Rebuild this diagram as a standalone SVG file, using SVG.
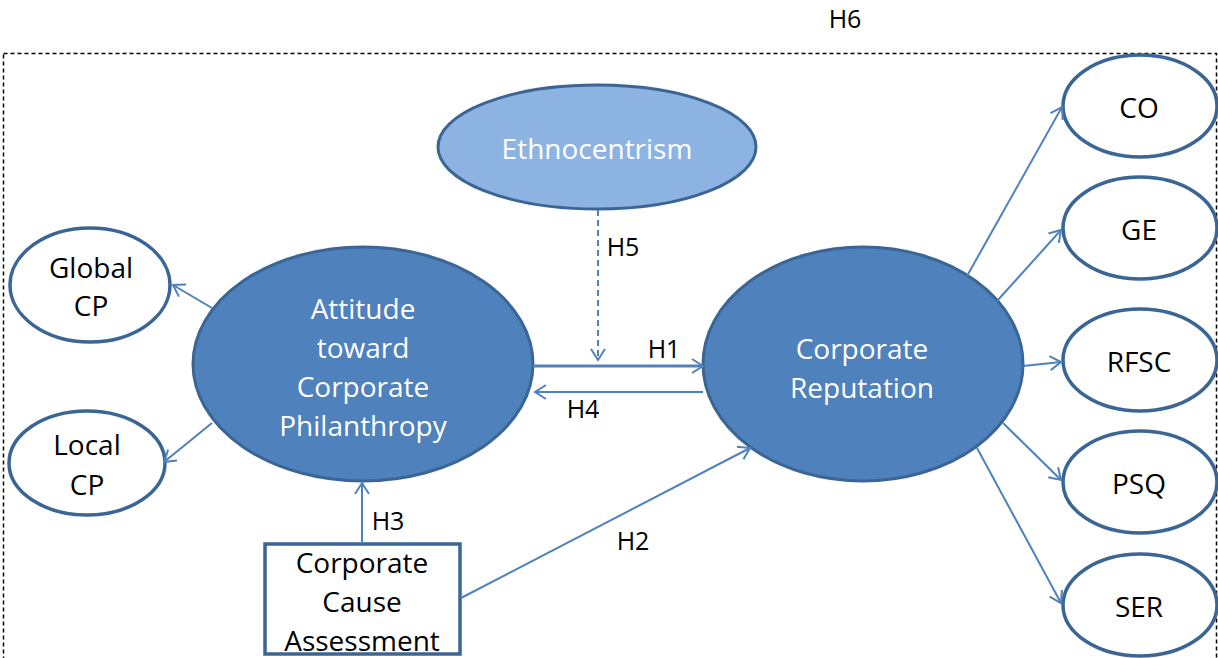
<svg xmlns="http://www.w3.org/2000/svg" width="1218" height="658" viewBox="0 0 1218 658">
<style>
text{font-family:"Open Sans","Liberation Sans",sans-serif;font-size:28px;text-anchor:middle;dominant-baseline:central}
.w{fill:#ffffff}
.k{fill:#000000}
.lbl{font-size:25px}
.dark{fill:#4f81bd;stroke:#3a6595;stroke-width:3}
.light{fill:#8db3e2;stroke:#3a6595;stroke-width:3}
.white{fill:#ffffff;stroke:#3a6595;stroke-width:3.5}
.c{stroke:#4f81bd;stroke-width:2;fill:none;marker-end:url(#ah)}
</style>
<defs>
<marker id="ah" markerUnits="userSpaceOnUse" markerWidth="20" markerHeight="20" refX="13" refY="8" orient="auto">
<path d="M2,1 L13,8 L2,15" fill="none" stroke="#4f81bd" stroke-width="2"/>
</marker>
</defs>
<rect x="3.5" y="53.5" width="1213" height="620" fill="none" stroke="#000" stroke-width="1.5" stroke-dasharray="4,3"/>
<text class="k lbl" x="845" y="18">H6</text>
<g id="ethnocentrism">
<ellipse class="light" cx="597" cy="147" rx="159" ry="62"/>
<text class="w" x="597" y="148">Ethnocentrism</text>
</g>
<g id="attitude">
<ellipse class="dark" cx="363" cy="364" rx="170" ry="117"/>
<text class="w" x="363" y="308">Attitude</text>
<text class="w" x="363" y="347">toward</text>
<text class="w" x="363" y="386">Corporate</text>
<text class="w" x="363" y="425">Philanthropy</text>
</g>
<g id="reputation">
<ellipse class="dark" cx="863" cy="364" rx="160" ry="117"/>
<text class="w" x="862" y="348">Corporate</text>
<text class="w" x="862" y="387">Reputation</text>
</g>
<g id="globalcp">
<ellipse class="white" cx="90" cy="285" rx="80" ry="57"/>
<text class="k" x="91" y="267">Global</text>
<text class="k" x="91" y="305">CP</text>
</g>
<g id="localcp">
<ellipse class="white" cx="87" cy="463" rx="78" ry="52"/>
<text class="k" x="87" y="444">Local</text>
<text class="k" x="87" y="484">CP</text>
</g>
<g id="cause">
<rect x="265" y="544" width="195" height="110" fill="#fff" stroke="#3a6595" stroke-width="3.5"/>
<text class="k" x="362" y="562">Corporate</text>
<text class="k" x="362" y="601">Cause</text>
<text class="k" x="362" y="640">Assessment</text>
</g>
<g id="co">
<ellipse class="white" cx="1140" cy="106" rx="77" ry="51"/>
<text class="k" x="1139" y="107">CO</text>
</g>
<g id="ge">
<ellipse class="white" cx="1140" cy="228" rx="77" ry="51"/>
<text class="k" x="1139" y="229">GE</text>
</g>
<g id="rfsc">
<ellipse class="white" cx="1140" cy="360" rx="77" ry="51"/>
<text class="k" x="1139" y="361">RFSC</text>
</g>
<g id="psq">
<ellipse class="white" cx="1140" cy="482" rx="77" ry="51"/>
<text class="k" x="1139" y="483">PSQ</text>
</g>
<g id="ser">
<ellipse class="white" cx="1140" cy="605" rx="77" ry="51"/>
<text class="k" x="1139" y="606">SER</text>
</g>
<g id="connectors">
<line class="c" x1="533" y1="366" x2="703" y2="366" style="stroke-width:3"/>
<line class="c" x1="703" y1="392" x2="535" y2="392"/>
<line class="c" x1="598" y1="210" x2="598" y2="360" stroke-dasharray="6,4"/>
<line class="c" x1="362" y1="542" x2="362" y2="483"/>
<line class="c" x1="461" y1="598" x2="750" y2="448"/>
<line class="c" x1="212" y1="308" x2="173" y2="285"/>
<line class="c" x1="212" y1="423" x2="164" y2="462"/>
<line class="c" x1="967" y1="276" x2="1062" y2="107"/>
<line class="c" x1="997" y1="301" x2="1061" y2="230"/>
<line class="c" x1="1023" y1="366" x2="1061" y2="362"/>
<line class="c" x1="1003" y1="423" x2="1061" y2="480"/>
<line class="c" x1="977" y1="448" x2="1061" y2="603"/>
<text class="k lbl" x="623" y="246">H5</text>
<text class="k lbl" x="664" y="348">H1</text>
<text class="k lbl" x="583" y="408">H4</text>
<text class="k lbl" x="388" y="520">H3</text>
<text class="k lbl" x="633" y="540">H2</text>
</g>
</svg>
